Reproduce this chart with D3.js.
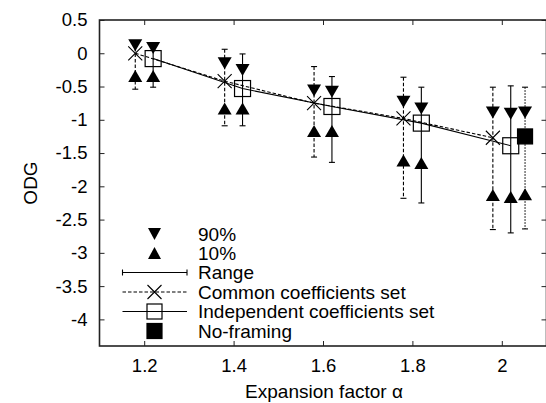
<!DOCTYPE html>
<html>
<head>
<meta charset="utf-8">
<script src="https://cdn.jsdelivr.net/npm/d3@7"></script>
<style>
  html, body { margin: 0; padding: 0; background: #fff; }
  svg { display: block; font-family: "Liberation Sans", Arial, Helvetica, sans-serif; }
</style>
</head>
<body>
<svg id="chart" width="546" height="403"></svg>
<script>
// ---- data ----
const alphas = [1.2, 1.4, 1.6, 1.8, 2.0];
const xTicks = [1.2, 1.4, 1.6, 1.8, 2.0];
const yTicks = [0.5, 0, -0.5, -1, -1.5, -2, -2.5, -3, -3.5, -4];

// Common coefficients set
const commonMean = [0.0, -0.42, -0.75, -0.98, -1.27];
const commonP90  = [0.12, -0.15, -0.56, -0.73, -0.89];
const commonP10  = [-0.34, -0.83, -1.17, -1.61, -2.13];
const commonMax  = [0.16, 0.06, -0.20, -0.36, -0.51];
const commonMin  = [-0.54, -1.09, -1.56, -2.18, -2.65];

// Independent coefficients set
const indepMean = [-0.08, -0.53, -0.80, -1.05, -1.39];
const indepP90  = [0.08, -0.25, -0.58, -0.83, -0.91];
const indepP10  = [-0.34, -0.83, -1.17, -1.65, -2.16];
const indepMax  = [0.16, -0.01, -0.35, -0.51, -0.49];
const indepMin  = [-0.51, -1.09, -1.64, -2.25, -2.70];

// No-framing (only at alpha = 2)
const noFrameAlpha = [2.0];
const noFrameMean = [-1.25];
const noFrameP90  = [-0.89];
const noFrameP10  = [-2.12];
const noFrameMax  = [-0.51];
const noFrameMin  = [-2.64];

// horizontal offsets of the series around each alpha
const commonOffset = -0.02, indepOffset = 0.02, noFrameOffset = 0.052;

const legendLabels = ["90%", "10%", "Range", "Common coefficients set", "Independent coefficients set", "No-framing"];

// ---- layout ----
const svg = d3.select("#chart");
const L = 99.5, R = 546.5, T = 20, B = 346;
const x = d3.scaleLinear().domain([1.1, 2.1]).range([L, R]);
const y = d3.scaleLinear().domain([-4.4, 0.5]).range([B, T]);

const ink = "#000";

// axes
const gx = svg.append("g").attr("transform", `translate(0,${B})`)
  .call(d3.axisBottom(x).tickValues(xTicks).tickFormat(d => String(+d.toFixed(1))).tickSizeInner(-5).tickSizeOuter(0).tickPadding(13));
const gxt = svg.append("g").attr("transform", `translate(0,${T})`)
  .call(d3.axisTop(x).tickValues(xTicks).tickFormat("").tickSizeInner(-5).tickSizeOuter(0));
const gy = svg.append("g").attr("transform", `translate(${L},0)`)
  .call(d3.axisLeft(y).tickValues(yTicks).tickFormat(d => String(d)).tickSizeInner(-5).tickSizeOuter(0).tickPadding(12));
const gyr = svg.append("g").attr("transform", `translate(${R},0)`)
  .call(d3.axisRight(y).tickValues(yTicks).tickFormat("").tickSizeInner(-5).tickSizeOuter(0));
[gx, gxt, gy, gyr].forEach(g => {
  g.select(".domain").remove();
  g.selectAll(".tick line").attr("stroke", "#222").attr("stroke-width", 1);
  g.selectAll("text").attr("fill", ink).style("font-size", "18.5px").style("font-family", "Liberation Sans, Arial, sans-serif");
});

// frame
svg.append("rect").attr("x", L).attr("y", T).attr("width", R - L).attr("height", B - T)
  .attr("fill", "none").attr("stroke", "#222").attr("stroke-width", 1.6);

// axis titles
svg.append("text").attr("x", 324).attr("y", 397.5).attr("text-anchor", "middle")
  .style("font-size", "19px").attr("fill", ink).text("Expansion factor α");
svg.append("text").attr("transform", "translate(37,183) rotate(-90)").attr("text-anchor", "middle")
  .style("font-size", "19px").attr("fill", ink).text("ODG");

// ---- marks ----
const plot = svg.append("g");
const cap = 3;
const triW = 7, triH = 6;
function triDown(cx, cy, w = triW, h = triH) { return `M${cx - w},${cy - h}L${cx + w},${cy - h}L${cx},${cy + h}Z`; }
function triUp(cx, cy, w = triW, h = triH) { return `M${cx - w},${cy + h}L${cx + w},${cy + h}L${cx},${cy - h}Z`; }

function series(xs, off, mean, p90, p10, mx, mn, dash) {
  const pts = xs.map((a, i) => ({ a: a + off, mean: mean[i], p90: p90[i], p10: p10[i], mx: mx[i], mn: mn[i] }));
  const g = plot.append("g");
  pts.forEach(p => {
    const cx = x(p.a);
    g.append("line").attr("x1", cx).attr("x2", cx).attr("y1", y(p.mx)).attr("y2", y(p.mn))
      .attr("stroke", ink).attr("stroke-width", 1.1).attr("stroke-dasharray", dash);
    [p.mx, p.mn].forEach(v => g.append("line").attr("x1", cx - cap).attr("x2", cx + cap)
      .attr("y1", y(v)).attr("y2", y(v)).attr("stroke", ink).attr("stroke-width", 1.1));
  });
  pts.forEach(p => {
    g.append("path").attr("d", triDown(x(p.a), y(p.p90))).attr("fill", ink);
    g.append("path").attr("d", triUp(x(p.a), y(p.p10))).attr("fill", ink);
  });
  return pts;
}

const cPts = series(alphas, commonOffset, commonMean, commonP90, commonP10, commonMax, commonMin, "3.5,2");
const iPts = series(alphas, indepOffset, indepMean, indepP90, indepP10, indepMax, indepMin, null);
const nPts = series(noFrameAlpha, noFrameOffset, noFrameMean, noFrameP90, noFrameP10, noFrameMax, noFrameMin, "1.5,1.5");

const line = d3.line().x(p => x(p.a)).y(p => y(p.mean));
plot.append("path").attr("d", line(cPts)).attr("fill", "none").attr("stroke", ink)
  .attr("stroke-width", 1.1).attr("stroke-dasharray", "3.5,2");
plot.append("path").attr("d", line(iPts)).attr("fill", "none").attr("stroke", ink).attr("stroke-width", 1.1);

function xMark(g, cx, cy, s = 7) {
  g.append("path").attr("d", `M${cx - s},${cy - s}L${cx + s},${cy + s}M${cx - s},${cy + s}L${cx + s},${cy - s}`)
    .attr("stroke", ink).attr("stroke-width", 1.1).attr("fill", "none");
}
function sqMark(g, cx, cy, s = 8, filled = false) {
  g.append("rect").attr("x", cx - s).attr("y", cy - s).attr("width", 2 * s).attr("height", 2 * s)
    .attr("fill", filled ? ink : "none").attr("stroke", ink).attr("stroke-width", 1.2);
}
cPts.forEach(p => xMark(plot, x(p.a), y(p.mean)));
iPts.forEach(p => sqMark(plot, x(p.a), y(p.mean)));
nPts.forEach(p => sqMark(plot, x(p.a), y(p.mean), 7.5, true));

// ---- legend ----
const lg = svg.append("g");
const symX = 154.5, lx0 = 122.5, lx1 = 187, textX = 198;
const rowY = [234, 253, 272.5, 292, 311.5, 331];
legendLabels.forEach((t, i) => {
  lg.append("text").attr("x", textX).attr("y", rowY[i]).attr("dy", "0.36em")
    .style("font-size", "19px").attr("fill", ink).text(t);
});
lg.append("path").attr("d", triDown(symX, rowY[0], 6.5, 6)).attr("fill", ink);
lg.append("path").attr("d", triUp(symX, rowY[1], 6.5, 6)).attr("fill", ink);
lg.append("line").attr("x1", lx0).attr("x2", lx1).attr("y1", rowY[2]).attr("y2", rowY[2]).attr("stroke", ink).attr("stroke-width", 1.1);
[lx0, lx1].forEach(xx => lg.append("line").attr("x1", xx).attr("x2", xx).attr("y1", rowY[2] - 3).attr("y2", rowY[2] + 3).attr("stroke", ink).attr("stroke-width", 1.1));
lg.append("line").attr("x1", lx0).attr("x2", lx1).attr("y1", rowY[3]).attr("y2", rowY[3]).attr("stroke", ink).attr("stroke-width", 1.1).attr("stroke-dasharray", "3.5,2");
xMark(lg, symX, rowY[3]);
lg.append("line").attr("x1", lx0).attr("x2", lx1).attr("y1", rowY[4]).attr("y2", rowY[4]).attr("stroke", ink).attr("stroke-width", 1.1);
sqMark(lg, symX, rowY[4], 7.5);
sqMark(lg, symX, rowY[5], 7.5, true);
</script>
</body>
</html>
